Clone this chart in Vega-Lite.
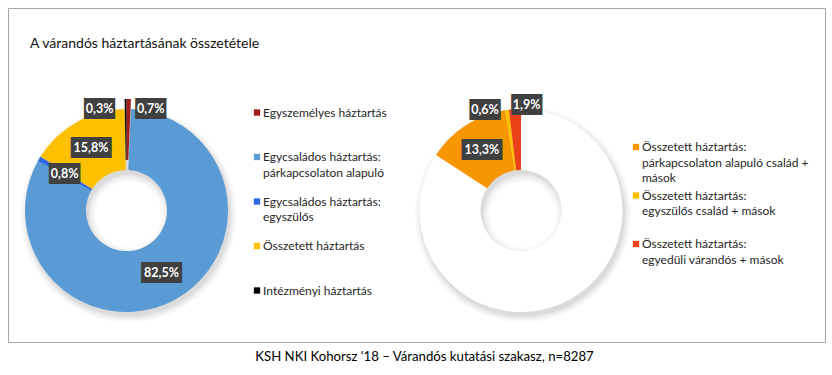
{
  "$schema": "https://vega.github.io/schema/vega-lite/v6.json",
  "width": 817,
  "height": 334,
  "autosize": {"type": "none"},
  "padding": {"left": 8, "top": 8, "right": 7, "bottom": 33},
  "background": "white",
  "title": {"text": "A várandós háztartásának összetétele", "anchor": "start", "orient": "top", "frame": "group", "offset": -43, "dx": 22, "font": "Lato", "fontSize": 14, "fontWeight": "normal", "color": "#111111"},
  "config": {
    "view": {"stroke": "#A6A6A6", "strokeWidth": 1},
    "locale": {"number": {"decimal": ",", "thousands": " ", "grouping": [3], "currency": ["", "%"]}},
    "style": {"guide-label": {"lineHeight": 15.5}}
  },
  "data": {"values": [
    {"chart": "A", "cat": "Egyszemélyes háztartás", "value": 0.7, "ord": 1},
    {"chart": "A", "cat": "Egycsaládos háztartás: párkapcsolaton alapuló", "value": 82.5, "ord": 2},
    {"chart": "A", "cat": "Egycsaládos háztartás: egyszülős", "value": 0.8, "ord": 3},
    {"chart": "A", "cat": "Összetett háztartás", "value": 15.8, "ord": 4},
    {"chart": "A", "cat": "Intézményi háztartás", "value": 0.3, "ord": 5},
    {"chart": "B", "cat": "Egyéb háztartás", "value": 84.2, "ord": 1},
    {"chart": "B", "cat": "Összetett háztartás: párkapcsolaton alapuló család + mások", "value": 13.3, "ord": 2},
    {"chart": "B", "cat": "Összetett háztartás: egyszülős család + mások", "value": 0.6, "ord": 3},
    {"chart": "B", "cat": "Összetett háztartás: egyedüli várandós + mások", "value": 1.9, "ord": 4}
  ]},
  "encoding": {
    "x": {"field": "chart", "type": "nominal", "scale": {"type": "point", "domain": ["A", "B"], "range": [118.5, 513], "padding": 0},
      "axis": {"title": "KSH NKI Kohorsz '18 – Várandós kutatási szakasz, n=8287", "labels": false, "ticks": false, "domain": false, "grid": false, "titleFont": "Lato", "titleFontSize": 13.2, "titleFontWeight": "normal", "titleColor": "#000000", "titlePadding": 8, "titleX": 416}},
    "y": {"datum": "c", "type": "nominal", "scale": {"type": "point", "domain": ["c"], "range": [0, 405]}, "axis": null}
  },
  "layer": [
    {
      "transform": [{"aggregate": [{"op": "sum", "field": "value", "as": "total"}], "groupby": ["chart"]}],
      "layer": [
        {"mark": {"type": "arc", "theta": 0, "theta2": 6.2832, "innerRadius": 33, "outerRadius": 108, "fill": "#000000", "opacity": 0.025, "xOffset": 2, "yOffset": 4}},
        {"mark": {"type": "arc", "theta": 0, "theta2": 6.2832, "innerRadius": 35.5, "outerRadius": 106, "fill": "#000000", "opacity": 0.03, "xOffset": 2, "yOffset": 4}},
        {"mark": {"type": "arc", "theta": 0, "theta2": 6.2832, "innerRadius": 38, "outerRadius": 104, "fill": "#000000", "opacity": 0.04, "xOffset": 2, "yOffset": 4}},
        {"mark": {"type": "arc", "theta": 0, "theta2": 6.2832, "innerRadius": 40, "outerRadius": 102, "fill": "#000000", "opacity": 0.05, "xOffset": 2, "yOffset": 4}}
      ]
    },
    {
      "transform": [{"filter": "datum.chart === 'A'"}],
      "encoding": {
        "theta": {"field": "value", "type": "quantitative", "stack": "normalize"},
        "order": {"field": "ord", "type": "quantitative"},
        "detail": {"field": "cat", "type": "nominal"}
      },
      "layer": [
        {"mark": {"type": "arc", "innerRadius": 40.5, "outerRadius": 101.5},
          "encoding": {
            "color": {"field": "cat", "type": "nominal",
              "scale": {"domain": ["Egyszemélyes háztartás", "Egycsaládos háztartás: párkapcsolaton alapuló", "Egycsaládos háztartás: egyszülős", "Összetett háztartás", "Intézményi háztartás"], "range": ["#A31C1C", "#5B9BD5", "#2E68E6", "#FFC000", "#000000"]},
              "legend": {"orient": "none", "legendX": 243, "legendY": 98.5, "title": null, "symbolType": "square", "symbolSize": 40, "symbolStrokeWidth": 0, "labelFont": "Lato", "labelFontSize": 12, "labelColor": "#262626", "labelOffset": 0, "rowPadding": 16.5, "labelLimit": 300, "padding": 0,
                "labelExpr": "split(indexof(datum.label, ': ') > 0 ? replace(datum.label, ': ', ':|') : datum.label + '|', '|')"}},
            "opacity": {"condition": {"test": "datum.cat === 'Egyszemélyes háztartás' || datum.cat === 'Intézményi háztartás'", "value": 0}, "value": 1}
          }},
        {"mark": {"type": "arc", "innerRadius": 40.5, "outerRadius": 101.5, "yOffset": -10},
          "encoding": {
            "color": {"field": "cat", "type": "nominal"},
            "opacity": {"condition": {"test": "datum.cat === 'Egyszemélyes háztartás' || datum.cat === 'Intézményi háztartás'", "value": 1}, "value": 0}
          }},
        {"mark": {"type": "text", "radius": 72, "font": "DejaVu Sans Mono", "fontSize": 16, "fill": "#404040", "stroke": "#404040", "strokeWidth": 2},
          "encoding": {"text": {"condition": [{"test": "datum.value >= 10", "value": "████"}, {"test": "datum.value >= 0.75", "value": "███"}], "value": ""}}},
        {"mark": {"type": "text", "radius": 72, "font": "Lato", "fontSize": 12.5, "fontWeight": "bold", "fill": "#ffffff"},
          "encoding": {"text": {"field": "value", "type": "quantitative", "format": "$.1f", "condition": {"test": "datum.value < 0.75", "value": ""}}}},
        {"mark": {"type": "text", "radius": 101.5, "dx": -26, "font": "DejaVu Sans Mono", "fontSize": 16, "fill": "#404040", "stroke": "#404040", "strokeWidth": 2},
          "encoding": {"text": {"condition": {"test": "datum.cat === 'Intézményi háztartás'", "value": "███"}, "value": ""}}},
        {"mark": {"type": "text", "radius": 101.5, "dx": -26, "font": "Lato", "fontSize": 12.5, "fontWeight": "bold", "fill": "#ffffff"},
          "encoding": {"text": {"field": "value", "type": "quantitative", "format": "$.1f", "condition": {"test": "datum.cat !== 'Intézményi háztartás'", "value": ""}}}},
        {"mark": {"type": "text", "radius": 101.5, "dx": 22, "font": "DejaVu Sans Mono", "fontSize": 16, "fill": "#404040", "stroke": "#404040", "strokeWidth": 2},
          "encoding": {"text": {"condition": {"test": "datum.cat === 'Egyszemélyes háztartás'", "value": "███"}, "value": ""}}},
        {"mark": {"type": "text", "radius": 101.5, "dx": 22, "font": "Lato", "fontSize": 12.5, "fontWeight": "bold", "fill": "#ffffff"},
          "encoding": {"text": {"field": "value", "type": "quantitative", "format": "$.1f", "condition": {"test": "datum.cat !== 'Egyszemélyes háztartás'", "value": ""}}}}
      ]
    },
    {
      "transform": [{"filter": "datum.chart === 'B'"}],
      "encoding": {
        "theta": {"field": "value", "type": "quantitative", "stack": "normalize"},
        "order": {"field": "ord", "type": "quantitative"},
        "detail": {"field": "cat", "type": "nominal"}
      },
      "layer": [
        {"mark": {"type": "arc", "innerRadius": 40.5, "outerRadius": 101.5},
          "encoding": {
            "fill": {"field": "cat", "type": "nominal",
              "scale": {"domain": ["Egyéb háztartás", "Összetett háztartás: párkapcsolaton alapuló család + mások", "Összetett háztartás: egyszülős család + mások", "Összetett háztartás: egyedüli várandós + mások"], "range": ["#FFFFFF", "#F79600", "#FFC000", "#EB4119"]},
              "legend": {"values": ["Összetett háztartás: párkapcsolaton alapuló család + mások", "Összetett háztartás: egyszülős család + mások", "Összetett háztartás: egyedüli várandós + mások"],
                "orient": "none", "legendX": 622, "legendY": 133, "title": null, "symbolType": "square", "symbolSize": 40, "symbolStrokeWidth": 0, "labelFont": "Lato", "labelFontSize": 12, "labelColor": "#262626", "labelOffset": 0, "rowPadding": 5.5, "labelLimit": 300, "padding": 0,
                "labelExpr": "split(replace(replace(datum.label, ': ', ':|'), 'alapuló család + ', 'alapuló család +|') + (indexof(datum.label, 'alapuló') > 0 ? '' : '|'), '|')"}}
          }},
        {"mark": {"type": "text", "radius": 72, "font": "DejaVu Sans Mono", "fontSize": 16, "fill": "#404040", "stroke": "#404040", "strokeWidth": 2},
          "encoding": {"text": {"condition": {"test": "datum.value > 5 && datum.value < 50", "value": "████"}, "value": ""}}},
        {"mark": {"type": "text", "radius": 72, "font": "Lato", "fontSize": 12.5, "fontWeight": "bold", "fill": "#ffffff"},
          "encoding": {"text": {"field": "value", "type": "quantitative", "format": "$.1f", "condition": {"test": "datum.value > 50 || datum.value < 5", "value": ""}}}},
        {"mark": {"type": "text", "radius": 101.5, "dx": -22, "font": "DejaVu Sans Mono", "fontSize": 16, "fill": "#404040", "stroke": "#404040", "strokeWidth": 2},
          "encoding": {"text": {"condition": {"test": "datum.cat === 'Összetett háztartás: egyszülős család + mások'", "value": "███"}, "value": ""}}},
        {"mark": {"type": "text", "radius": 101.5, "dx": -22, "font": "Lato", "fontSize": 12.5, "fontWeight": "bold", "fill": "#ffffff"},
          "encoding": {"text": {"field": "value", "type": "quantitative", "format": "$.1f", "condition": {"test": "datum.cat !== 'Összetett háztartás: egyszülős család + mások'", "value": ""}}}},
        {"mark": {"type": "text", "radius": 106, "dx": 12, "font": "DejaVu Sans Mono", "fontSize": 16, "fill": "#404040", "stroke": "#404040", "strokeWidth": 2},
          "encoding": {"text": {"condition": {"test": "datum.cat === 'Összetett háztartás: egyedüli várandós + mások'", "value": "███"}, "value": ""}}},
        {"mark": {"type": "text", "radius": 106, "dx": 12, "font": "Lato", "fontSize": 12.5, "fontWeight": "bold", "fill": "#ffffff"},
          "encoding": {"text": {"field": "value", "type": "quantitative", "format": "$.1f", "condition": {"test": "datum.cat !== 'Összetett háztartás: egyedüli várandós + mások'", "value": ""}}}}
      ]
    }
  ]
}
